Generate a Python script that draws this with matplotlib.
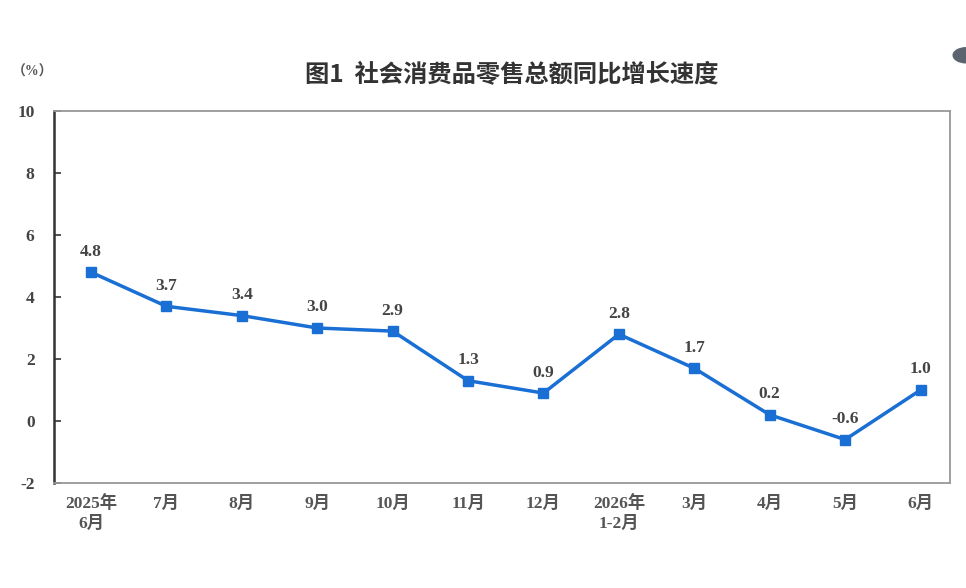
import matplotlib.pyplot as plt
from matplotlib.patches import Circle

# 社会消费品零售总额同比增长速度 (%)
months = ['2025年\n6月', '7月', '8月', '9月', '10月', '11月', '12月',
          '2026年\n1-2月', '3月', '4月', '5月', '6月']
growth = [4.8, 3.7, 3.4, 3.0, 2.9, 1.3, 0.9, 2.8, 1.7, 0.2, -0.6, 1.0]
yticks = [-2, 0, 2, 4, 6, 8, 10]

serif = ['Liberation Serif', 'Noto Sans CJK SC']
plt.rcParams['font.family'] = serif
plt.rcParams['font.weight'] = 'bold'

fig = plt.figure(figsize=(9.66, 5.88), dpi=100)
ax = fig.add_axes([0.0559, 0.1786, 0.9275, 0.6326])

x = list(range(len(months)))
ax.plot(x, growth, color='#1a6fd4', linewidth=2.5, marker='s', markersize=6.5)
for xi, v in zip(x, growth):
    ax.annotate(f'{v:.1f}', (xi, v), xytext=(0, 9), textcoords='offset points',
                ha='center', va='bottom', fontsize=12.5, color='#444444')

ax.set_xlim(-0.49, 11.39)
ax.set_ylim(-2, 10)
ax.set_yticks(yticks)
ax.set_yticklabels([str(t) for t in yticks], fontsize=12.5, color='#444444')
ax.set_xticks(x)
ax.set_xticklabels(months, fontsize=12.5, color='#555555', linespacing=1.3)
ax.tick_params(axis='x', length=0, pad=9)
ax.tick_params(axis='y', direction='in', length=5, width=1.2, color='#333333', pad=14)

ax.spines['left'].set_color('#333333')
ax.spines['left'].set_linewidth(1.8)
for s in ['top', 'right', 'bottom']:
    ax.spines[s].set_color('#999999')
    ax.spines[s].set_linewidth(1.3)

fig.text(0.53, 0.872, '图1  社会消费品零售总额同比增长速度', ha='center', va='center',
         fontsize=17.5, fontweight='bold', color='#333333', family=['Noto Sans CJK SC'])
fig.text(0.034, 0.877, '（%）', ha='center', va='center', fontsize=10, color='#555555')

fig.patches.append(Circle((1.0, 0.906), 0.014, transform=fig.transFigure,
                          facecolor='#5c6470', edgecolor='none'))

fig.savefig('out.png', dpi=100)
